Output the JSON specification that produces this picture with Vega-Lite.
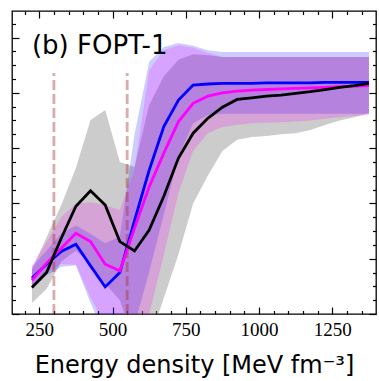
{
  "$schema": "https://vega.github.io/schema/vega-lite/v6.json",
  "width": 364,
  "height": 303,
  "autosize": {"type": "none"},
  "padding": {"left": 12, "top": 11, "right": 3, "bottom": 67},
  "background": "white",
  "config": {
    "view": {"stroke": "black", "strokeWidth": 1.3},
    "axis": {"domain": false, "grid": false, "tickColor": "black", "tickWidth": 1.2, "labelColor": "black", "titleColor": "black"}
  },
  "datasets": {
    "curves": [
      {"e": 225, "k": 0.48, "klo": 0.20, "khi": 0.80, "b": 0.65, "blo": 0.45, "bhi": 0.85, "m": 0.61, "mlo": 0.48, "mhi": 0.88},
      {"e": 275, "k": 0.75, "klo": 0.45, "khi": 1.39, "b": 0.90, "blo": 0.70, "bhi": 1.15, "m": 0.92, "mlo": 0.75, "mhi": 1.30},
      {"e": 325, "k": 1.37, "klo": 0.95, "khi": 1.97, "b": 1.13, "blo": 0.85, "bhi": 1.45, "m": 1.19, "mlo": 0.90, "mhi": 1.75},
      {"e": 375, "k": 1.95, "klo": 1.15, "khi": 2.64, "b": 1.26, "blo": 0.88, "bhi": 1.60, "m": 1.46, "mlo": 0.89, "mhi": 2.00},
      {"e": 425, "k": 2.23, "klo": 0.90, "khi": 3.51, "b": 0.87, "blo": 0.20, "bhi": 1.45, "m": 1.31, "mlo": 0.30, "mhi": 2.02},
      {"e": 475, "k": 1.97, "klo": 0.55, "khi": 3.69, "b": 0.49, "blo": -0.40, "bhi": 1.28, "m": 0.90, "mlo": -0.20, "mhi": 1.97},
      {"e": 525, "k": 1.31, "klo": 0.25, "khi": 2.75, "b": 0.75, "blo": -0.40, "bhi": 1.40, "m": 0.78, "mlo": -0.40, "mhi": 1.88},
      {"e": 575, "k": 1.14, "klo": -0.50, "khi": 2.66, "b": 1.69, "blo": -0.20, "bhi": 3.24, "m": 1.55, "mlo": -0.30, "mhi": 2.62},
      {"e": 625, "k": 1.52, "klo": -0.50, "khi": 3.78, "b": 2.60, "blo": 0.76, "bhi": 4.56, "m": 2.30, "mlo": 0.00, "mhi": 4.41},
      {"e": 675, "k": 2.13, "klo": 0.29, "khi": 4.30, "b": 3.39, "blo": 1.80, "bhi": 4.83, "m": 2.91, "mlo": 1.07, "mhi": 4.77},
      {"e": 725, "k": 2.82, "klo": 1.08, "khi": 4.60, "b": 3.87, "blo": 2.85, "bhi": 4.90, "m": 3.48, "mlo": 2.19, "mhi": 4.86},
      {"e": 775, "k": 3.27, "klo": 2.00, "khi": 4.70, "b": 4.14, "blo": 3.45, "bhi": 4.85, "m": 3.81, "mlo": 2.95, "mhi": 4.82},
      {"e": 825, "k": 3.54, "klo": 2.50, "khi": 4.68, "b": 4.16, "blo": 3.60, "bhi": 4.77, "m": 3.94, "mlo": 3.27, "mhi": 4.72},
      {"e": 875, "k": 3.74, "klo": 2.95, "khi": 4.65, "b": 4.17, "blo": 3.62, "bhi": 4.74, "m": 4.00, "mlo": 3.38, "mhi": 4.65},
      {"e": 925, "k": 3.88, "klo": 3.15, "khi": 4.65, "b": 4.17, "blo": 3.62, "bhi": 4.74, "m": 4.03, "mlo": 3.42, "mhi": 4.65},
      {"e": 975, "k": 3.91, "klo": 3.20, "khi": 4.65, "b": 4.17, "blo": 3.62, "bhi": 4.74, "m": 4.05, "mlo": 3.45, "mhi": 4.65},
      {"e": 1025, "k": 3.94, "klo": 3.22, "khi": 4.65, "b": 4.18, "blo": 3.62, "bhi": 4.74, "m": 4.06, "mlo": 3.46, "mhi": 4.65},
      {"e": 1075, "k": 3.96, "klo": 3.25, "khi": 4.65, "b": 4.18, "blo": 3.62, "bhi": 4.74, "m": 4.07, "mlo": 3.47, "mhi": 4.65},
      {"e": 1125, "k": 3.99, "klo": 3.27, "khi": 4.65, "b": 4.18, "blo": 3.62, "bhi": 4.74, "m": 4.08, "mlo": 3.48, "mhi": 4.65},
      {"e": 1175, "k": 4.02, "klo": 3.33, "khi": 4.65, "b": 4.18, "blo": 3.62, "bhi": 4.74, "m": 4.09, "mlo": 3.50, "mhi": 4.65},
      {"e": 1225, "k": 4.06, "klo": 3.42, "khi": 4.65, "b": 4.19, "blo": 3.62, "bhi": 4.74, "m": 4.10, "mlo": 3.53, "mhi": 4.65},
      {"e": 1275, "k": 4.10, "klo": 3.50, "khi": 4.65, "b": 4.19, "blo": 3.62, "bhi": 4.74, "m": 4.11, "mlo": 3.56, "mhi": 4.65},
      {"e": 1325, "k": 4.13, "klo": 3.56, "khi": 4.65, "b": 4.19, "blo": 3.62, "bhi": 4.74, "m": 4.12, "mlo": 3.58, "mhi": 4.65},
      {"e": 1375, "k": 4.17, "klo": 3.63, "khi": 4.65, "b": 4.19, "blo": 3.62, "bhi": 4.74, "m": 4.13, "mlo": 3.60, "mhi": 4.65}
    ],
    "marks": [{"e": 300}, {"e": 550}],
    "label": [{"name": "(b) FOPT-1"}]
  },
  "data": {"name": "curves"},
  "resolve": {"axis": {"x": "independent", "y": "independent"}},
  "layer": [
    {
      "mark": {"type": "area", "color": "#808080", "opacity": 0.4, "clip": true},
      "encoding": {
        "x": {"field": "e", "type": "quantitative",
          "scale": {"domain": [157, 1399], "nice": false, "zero": false},
          "axis": {"orient": "bottom",
            "values": [200,250,300,350,400,450,500,550,600,650,700,750,800,850,900,950,1000,1050,1100,1150,1200,1250,1300,1350],
            "format": "d",
            "labelExpr": "datum.value % 250 === 0 ? datum.label : ''",
            "tickSize": {"condition": {"test": "datum.value % 250 === 0", "value": -7}, "value": -3.5},
            "labelFont": "Liberation Serif", "labelFontSize": 19, "labelPadding": 13,
            "labelOverlap": false, "labelFlush": false,
            "title": "Energy density [MeV fm⁻³]", "titleFont": "DejaVu Sans", "titleFontSize": 24, "titleFontWeight": "normal", "titlePadding": 11}},
        "y": {"field": "klo", "type": "quantitative",
          "scale": {"domain": [0, 5.48], "nice": false, "zero": false},
          "axis": {"orient": "left",
            "values": [0,0.25,0.5,0.75,1,1.25,1.5,1.75,2,2.25,2.5,2.75,3,3.25,3.5,3.75,4,4.25,4.5,4.75,5,5.25],
            "labels": false, "title": null,
            "tickSize": {"condition": {"test": "datum.value % 1 === 0", "value": -7}, "value": -3.5}}},
        "y2": {"field": "khi"}
      }
    },
    {
      "mark": {"type": "area", "color": "#0000ff", "opacity": 0.2, "clip": true},
      "encoding": {
        "x": {"field": "e", "type": "quantitative", "axis": null},
        "y": {"field": "blo", "type": "quantitative", "axis": null},
        "y2": {"field": "bhi"}
      }
    },
    {
      "mark": {"type": "area", "color": "#ff00ff", "opacity": 0.2, "clip": true},
      "encoding": {
        "x": {"field": "e", "type": "quantitative", "axis": null},
        "y": {"field": "mlo", "type": "quantitative", "axis": null},
        "y2": {"field": "mhi"}
      }
    },
    {
      "data": {"name": "marks"},
      "mark": {"type": "rule", "color": "#a52a2a", "opacity": 0.4, "strokeWidth": 2.8, "strokeDash": [10, 4]},
      "encoding": {
        "x": {"field": "e", "type": "quantitative", "axis": null},
        "y": {"datum": 0, "type": "quantitative", "axis": null},
        "y2": {"datum": 4.36}
      }
    },
    {
      "mark": {"type": "line", "color": "#0000ff", "strokeWidth": 2.8, "clip": true},
      "encoding": {
        "x": {"field": "e", "type": "quantitative", "axis": null},
        "y": {"field": "b", "type": "quantitative", "axis": null}
      }
    },
    {
      "mark": {"type": "line", "color": "#ff00ff", "strokeWidth": 2.8, "clip": true},
      "encoding": {
        "x": {"field": "e", "type": "quantitative", "axis": null},
        "y": {"field": "m", "type": "quantitative", "axis": null}
      }
    },
    {
      "mark": {"type": "line", "color": "#000000", "strokeWidth": 2.8, "clip": true},
      "encoding": {
        "x": {"field": "e", "type": "quantitative",
          "axis": {"orient": "top",
            "values": [200,250,300,350,400,450,500,550,600,650,700,750,800,850,900,950,1000,1050,1100,1150,1200,1250,1300,1350],
            "labels": false, "title": null,
            "tickSize": {"condition": {"test": "datum.value % 250 === 0", "value": -7}, "value": -3.5}}},
        "y": {"field": "k", "type": "quantitative",
          "axis": {"orient": "right",
            "values": [0,0.25,0.5,0.75,1,1.25,1.5,1.75,2,2.25,2.5,2.75,3,3.25,3.5,3.75,4,4.25,4.5,4.75,5,5.25],
            "labels": false, "title": null,
            "tickSize": {"condition": {"test": "datum.value % 1 === 0", "value": -7}, "value": -3.5}}}
      }
    },
    {
      "data": {"name": "label"},
      "mark": {"type": "text", "font": "DejaVu Sans", "fontSize": 26, "fontWeight": "normal", "align": "left", "baseline": "alphabetic", "fill": "#000000"},
      "encoding": {
        "text": {"field": "name"},
        "x": {"datum": 225, "type": "quantitative", "axis": null},
        "y": {"datum": 4.71, "type": "quantitative", "axis": null}
      }
    }
  ]
}
